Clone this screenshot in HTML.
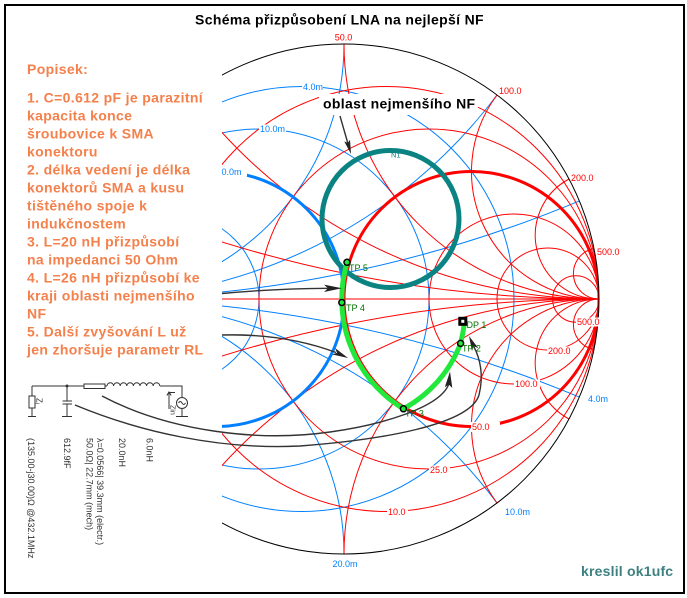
<!DOCTYPE html>
<html><head><meta charset="utf-8"><style>
html,body{margin:0;padding:0;background:#fff;width:687px;height:598px;overflow:hidden;}
svg{display:block;}
text{font-family:"Liberation Sans",Arial,sans-serif;}
</style></head><body>
<svg width="687" height="598" viewBox="0 0 687 598" xmlns="http://www.w3.org/2000/svg">
<defs>
<clipPath id="cu"><circle cx="344" cy="299" r="255"/></clipPath>
<clipPath id="cr"><rect x="222" y="0" width="465" height="598"/></clipPath>
</defs>
<rect x="0" y="0" width="687" height="598" fill="#fff"/>

<!-- Title -->
<text x="339.5" y="24.5" text-anchor="middle" font-size="14" font-weight="bold" letter-spacing="0.35" fill="#000">Schéma přizpůsobení LNA na nejlepší NF</text>

<!-- Left description -->
<g font-size="14" font-weight="bold" letter-spacing="0.35" fill="#f4804c">
<text x="27" y="74">Popisek:</text>
<text x="27" y="102.7">1. C=0.612 pF je parazitní</text>
<text x="27" y="120.7">kapacita konce</text>
<text x="27" y="138.7">šroubovice k SMA</text>
<text x="27" y="156.7">konektoru</text>
<text x="27" y="174.7">2. délka vedení je délka</text>
<text x="27" y="192.7">konektorů SMA a kusu</text>
<text x="27" y="210.7">tištěného spoje k</text>
<text x="27" y="228.7">indukčnostem</text>
<text x="27" y="246.7">3. L=20 nH přizpůsobí</text>
<text x="27" y="264.7">na impedanci 50 Ohm</text>
<text x="27" y="282.7">4. L=26 nH přizpůsobí ke</text>
<text x="27" y="300.7">kraji oblasti nejmenšího</text>
<text x="27" y="318.7">NF</text>
<text x="27" y="336.7">5. Další zvyšování L už</text>
<text x="27" y="354.7">jen zhoršuje parametr RL</text>
</g>

<!-- Smith chart -->
<g clip-path="url(#cr)">
 <g clip-path="url(#cu)" fill="none" stroke-width="1">
  <g stroke="#0080ff">
   <circle cx="301.5" cy="299" r="212.5"/>
   <circle cx="259" cy="299" r="170"/>
   <circle cx="174" cy="299" r="85"/>
   <path d="M579.4,200.9 A1275,1275 0 0 1 89,299"/>
   <path d="M497,95 A510,510 0 0 1 89,299"/>
   <path d="M344,44 A255,255 0 0 1 89,299"/>
   <path d="M579.4,397.1 A1275,1275 0 0 0 89,299"/>
   <path d="M497,503 A510,510 0 0 0 89,299"/>
   <path d="M344,554 A255,255 0 0 0 89,299"/>
  </g>
  <g stroke="#ff0000">
   <line x1="222" y1="299" x2="600" y2="299"/>
   <circle cx="386.5" cy="299" r="212.5"/>
   <circle cx="429" cy="299" r="170"/>
   <circle cx="514" cy="299" r="85"/>
   <circle cx="548" cy="299" r="51"/>
   <circle cx="575.8" cy="299" r="23.2"/>
   <path d="M108.6,200.9 A1275,1275 0 0 0 599,299"/>
   <path d="M191,95 A510,510 0 0 0 599,299"/>
   <path d="M344,44 A255,255 0 0 0 599,299"/>
   <path d="M497,95 A127.5,127.5 0 0 0 599,299"/>
   <path d="M569,179 A63.75,63.75 0 0 0 599,299"/>
   <path d="M593.9,248.5 A25.5,25.5 0 0 0 599,299"/>
   <path d="M108.6,397.1 A1275,1275 0 0 1 599,299"/>
   <path d="M191,503 A510,510 0 0 1 599,299"/>
   <path d="M344,554 A255,255 0 0 1 599,299"/>
   <path d="M497,503 A127.5,127.5 0 0 1 599,299"/>
   <path d="M569,419 A63.75,63.75 0 0 1 599,299"/>
   <path d="M593.9,349.5 A25.5,25.5 0 0 1 599,299"/>
  </g>
  <circle cx="216.5" cy="299" r="127.5" stroke="#0080ff" stroke-width="3"/>
  <circle cx="471.5" cy="299" r="127.5" stroke="#ff0000" stroke-width="3"/>
 </g>
 <circle cx="344" cy="299" r="255" fill="none" stroke="#000" stroke-width="1"/>

 <!-- inner labels with white backgrounds -->
 <g font-size="9">
  <rect x="576" y="317.5" width="25" height="9" fill="#fff"/>
  <text x="577" y="325.2" fill="#ff0000">500.0</text>
  <rect x="547" y="346.5" width="26" height="9" fill="#fff"/>
  <text x="548" y="354.2" fill="#ff0000">200.0</text>
  <rect x="514" y="379.5" width="26" height="9" fill="#fff"/>
  <text x="515" y="387.2" fill="#ff0000">100.0</text>
  <rect x="471" y="422" width="29" height="10" fill="#fff"/>
  <text x="472" y="430.2" fill="#ff0000">50.0</text>
  <rect x="429" y="465.5" width="21" height="9" fill="#fff"/>
  <text x="430" y="473.2" fill="#ff0000">25.0</text>
  <rect x="387" y="507.5" width="21" height="9" fill="#fff"/>
  <text x="388" y="515.2" fill="#ff0000">10.0</text>
  <rect x="302" y="82.5" width="21" height="9" fill="#fff"/>
  <text x="303" y="90.2" fill="#0080ff">4.0m</text>
  <rect x="259" y="124.5" width="27" height="9" fill="#fff"/>
  <text x="260" y="132.2" fill="#0080ff">10.0m</text>
  <rect x="216" y="167.5" width="31" height="9" fill="#fff"/>
  <text x="216.5" y="175.2" fill="#0080ff">20.0m</text>
 </g>
</g>

<!-- rim labels -->
<g font-size="9">
 <text x="343.5" y="40.7" text-anchor="middle" fill="#ff0000">50.0</text>
 <text x="499" y="94.2" fill="#ff0000">100.0</text>
 <text x="571" y="181.2" fill="#ff0000">200.0</text>
 <text x="597" y="255.2" fill="#ff0000">500.0</text>
 <text x="588" y="402.2" fill="#0080ff">4.0m</text>
 <text x="505" y="515.2" fill="#0080ff">10.0m</text>
 <text x="345" y="567.2" text-anchor="middle" fill="#0080ff">20.0m</text>
</g>

<!-- NF circle -->
<circle cx="390.5" cy="219" r="68.5" fill="none" stroke="#0b8383" stroke-width="5"/>
<text x="391" y="157.5" font-size="7.5" fill="#0b8383">N1</text>

<!-- "oblast" label -->
<rect x="319" y="94" width="159" height="21" fill="#fff"/>
<text x="323" y="108.7" font-size="14" font-weight="bold" letter-spacing="0.35" fill="#000">oblast nejmenšího NF</text>

<!-- matching path -->
<path d="M464.7,320.8 A188.4,188.4 0 0 1 460.6,343.4 A124.8,124.8 0 0 1 403.4,408.8 A128.6,128.6 0 0 1 341.8,302.5 A128.6,128.6 0 0 1 347.5,261.1" fill="none" stroke="#22e83c" stroke-width="5" stroke-linecap="round" stroke-linejoin="round"/>

<!-- annotation arrows -->
<g fill="none" stroke="#333" stroke-width="1.4">
 <path d="M340,116 L349.5,149"/>
 <path d="M222,293.5 C260,290 300,288.5 328,288.3"/>
 <path d="M222,335 C260,334 300,339 336,352.5"/>
 <path d="M102,396 C170,432 260,442 330,432 C380,425 440,408 448.8,384"/>
 <path d="M75,405 C140,432 220,450 300,446 C380,440 470,425 479,395 C484,375 480,358 473.5,346"/>
</g>
<g fill="#222">
 <polygon points="351,154 350,139.8 347.8,143 344.2,141.4"/>
 <polygon points="342,288.3 324,284.6 328,288.3 324,292"/>
 <polygon points="348,358 335,348 337.1,352.9 332,354.4"/>
 <polygon points="450,371.5 452.3,388 448.8,384.5 444.8,387.2"/>
 <polygon points="469,336 478.4,348.3 473.5,346 472,351.1"/>
</g>

<!-- markers -->
<g fill="none" stroke="#000" stroke-width="1.5">
 <circle cx="460.6" cy="343.4" r="3"/>
 <circle cx="403.4" cy="408.8" r="3"/>
 <circle cx="341.8" cy="302.5" r="3"/>
 <circle cx="347" cy="262.3" r="3"/>
</g>
<rect x="458.3" y="316.8" width="9" height="9" fill="#000"/>
<rect x="461.3" y="319.8" width="3" height="3" fill="#fff"/>
<g font-size="9" fill="#007000">
 <text x="349" y="271">TP 5</text>
 <text x="346" y="311">TP 4</text>
 <text x="405" y="416.5">TP 3</text>
 <text x="462" y="351.5">TP 2</text>
 <text x="466.5" y="328">DP 1</text>
</g>

<!-- schematic -->
<g fill="none" stroke="#333" stroke-width="1">
 <path d="M32,386 H84 M105,386 H107 M159.8,386 H182 V397.5 M182,408.5 V416 M176,416.5 H188"/>
 <rect x="84" y="384" width="21" height="4.5"/>
 <path d="M107,386 a3.3,3.3 0 0 1 6.6,0 a3.3,3.3 0 0 1 6.6,0 a3.3,3.3 0 0 1 6.6,0 a3.3,3.3 0 0 1 6.6,0 a3.3,3.3 0 0 1 6.6,0 a3.3,3.3 0 0 1 6.6,0 a3.3,3.3 0 0 1 6.6,0 a3.3,3.3 0 0 1 6.6,0"/>
 <circle cx="182" cy="403" r="5.5"/>
 <path d="M178.5,403 q1.75,-3 3.5,0 t3.5,0"/>
 <path d="M32,386 V396 M32,408 V416 M28,416.5 H36"/>
 <rect x="29" y="396" width="6" height="12"/>
 <path d="M67,386 V401 M62.5,401 H72 M62.5,404 H72 M67,404 V416 M62,416.5 H72"/>
 <path d="M169,409 V392.5 H175"/>
 <path d="M166.8,395.5 L169,392 L171.2,395.5"/>
</g>
<circle cx="67" cy="386" r="1.5" fill="#333"/>
<g fill="#333">
 <text transform="translate(36.5,398) rotate(90)" font-size="8">Z<tspan font-size="6" dy="1.5">L</tspan></text>
 <text transform="translate(170.5,405) rotate(90)" font-size="7">Zin</text>
 <g font-size="9">
  <text transform="translate(146.5,438) rotate(90)">6.0nH</text>
  <text transform="translate(118.8,438) rotate(90)">20.0nH</text>
  <text transform="translate(96.8,438) rotate(90)">λ=0.0566| 39.3mm (electr.)</text>
  <text transform="translate(86.3,438) rotate(90)">50.0Ω| 22.7mm (mech)</text>
  <text transform="translate(63.8,438) rotate(90)">612.9fF</text>
  <text transform="translate(28,438) rotate(90)">(135.00-j30.00)Ω @432.1MHz</text>
 </g>
</g>

<!-- signature -->
<text x="581" y="576" font-size="14" font-weight="bold" letter-spacing="0.2" fill="#3d8080">kreslil ok1ufc</text>

<!-- frame -->
<rect x="5" y="5" width="679" height="588" fill="none" stroke="#000" stroke-width="2"/>
</svg>
</body></html>
